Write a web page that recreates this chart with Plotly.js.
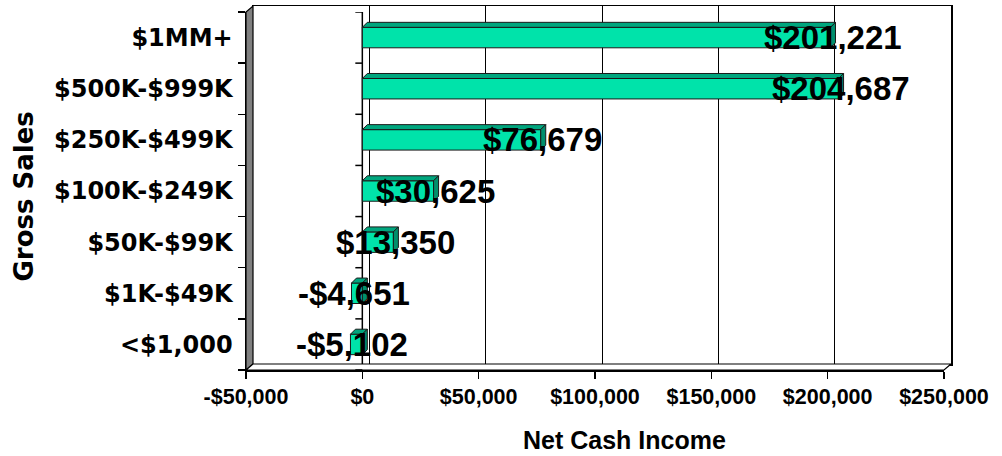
<!DOCTYPE html>
<html>
<head>
<meta charset="utf-8">
<script src="https://cdn.plot.ly/plotly-3.0.1.min.js"></script>
<style>html,body{margin:0;padding:0;background:#fff;}#chart{width:1002px;height:456px;}</style>
</head>
<body>
<div id="chart"></div>
<script>
// ---- data ----
var categories = ["<$1,000", "$1K-$49K", "$50K-$99K", "$100K-$249K", "$250K-$499K", "$500K-$999K", "$1MM+"];
var netCashIncome = [-5102, -4651, 13350, 30625, 76679, 204687, 201221];
var xTickVals = [-50000, 0, 50000, 100000, 150000, 200000, 250000];
var xTickText = ["-$50,000", "$0", "$50,000", "$100,000", "$150,000", "$200,000", "$250,000"];

// ---- geometry (pixels) ----
var W = 1002, H = 456;
var frontL = 246, frontR = 944, frontT = 12, frontB = 370;
var depX = 7, depY = 6;
var padL = frontL, padR = W - (frontR + depX), padT = frontT - depY, padB = H - frontB;
var pw = (frontR + depX) - frontL, ph = frontB - (frontT - depY);
function px(x) { return (x - frontL) / pw; }
function py(y) { return (frontB - y) / ph; }

var xMin = -50000, xMax = 250000;
var barW = 0.40;
var faceDx = 5 * (xMax - xMin) / (frontR - frontL);
var faceDy = 5 * 7 / (frontB - frontT);

function money(v) {
  var s = Math.abs(v).toString().replace(/\B(?=(\d{3})+(?!\d))/g, ",");
  return (v < 0 ? "-$" : "$") + s;
}

var idx = categories.map(function (c, i) { return i; });

var traces = [
  { type: "scatter", x: [], y: [], xaxis: "x", yaxis: "y", hoverinfo: "skip", showlegend: false },
  {
    type: "bar", orientation: "h", x: netCashIncome, y: idx, xaxis: "x2", yaxis: "y2",
    width: barW, marker: { color: "#00E3AA", line: { color: "#1a1a1a", width: 1 } },
    hoverinfo: "skip", showlegend: false
  }
];

var shapes = [];
// left wall
shapes.push({
  type: "path", xref: "paper", yref: "paper", layer: "above",
  path: "M" + px(frontL) + "," + py(frontB) + " L" + px(frontL) + "," + py(frontT) +
        " L" + px(frontL + depX) + "," + py(frontT - depY) + " L" + px(frontL + depX) + "," + py(frontB - depY) + " Z",
  fillcolor: "#808080", line: { color: "#000", width: 1.2 }
});
// floor
shapes.push({
  type: "path", xref: "paper", yref: "paper", layer: "above",
  path: "M" + px(frontL) + "," + py(frontB) + " L" + px(frontR) + "," + py(frontB) +
        " L" + px(frontR + depX) + "," + py(frontB - depY) + " L" + px(frontL + depX) + "," + py(frontB - depY) + " Z",
  fillcolor: "#ffffff", line: { color: "#000", width: 1.2 }
});
// zero category axis line and its ticks
shapes.push({ type: "line", xref: "x2", yref: "y2", x0: 0, x1: 0, y0: -0.5, y1: categories.length - 0.5, line: { color: "#000", width: 1.5 }, layer: "below" });
for (var b = 0; b <= categories.length; b++) {
  shapes.push({ type: "line", xref: "x2", yref: "y2", xsizemode: "pixel", xanchor: 0, x0: -7, x1: 0,
    y0: b - 0.5, y1: b - 0.5, line: { color: "#000", width: 1.5 } });
}
// 3D faces of bars
netCashIncome.forEach(function (v, i) {
  var x0 = Math.min(0, v), x1 = Math.max(0, v);
  var yt = i + barW / 2, yb = i - barW / 2;
  shapes.push({
    type: "path", xref: "x2", yref: "y2", layer: "above",
    path: "M" + x0 + "," + yt + " L" + x1 + "," + yt + " L" + (x1 + faceDx) + "," + (yt + faceDy) + " L" + (x0 + faceDx) + "," + (yt + faceDy) + " Z",
    fillcolor: "#00A67E", line: { color: "#1a1a1a", width: 1 }
  });
  shapes.push({
    type: "path", xref: "x2", yref: "y2", layer: "above",
    path: "M" + x1 + "," + yb + " L" + x1 + "," + yt + " L" + (x1 + faceDx) + "," + (yt + faceDy) + " L" + (x1 + faceDx) + "," + (yb + faceDy) + " Z",
    fillcolor: "#008F6C", line: { color: "#1a1a1a", width: 1 }
  });
});

var annotations = netCashIncome.map(function (v, i) {
  return {
    xref: "x2", yref: "y2", x: v, y: i, text: money(v), showarrow: false,
    xanchor: "center", yanchor: "middle", xshift: 2,
    font: { family: "Liberation Sans, Arial, sans-serif", size: 33, weight: "bold", color: "#000" }
  };
});
annotations.push({
  xref: "paper", yref: "paper", x: px(624.5), y: py(440), text: "Net Cash Income", showarrow: false,
  xanchor: "center", yanchor: "middle",
  font: { family: "Liberation Sans, Arial, sans-serif", size: 25, weight: "bold", color: "#000" }
});
annotations.push({
  xref: "paper", yref: "paper", x: px(24), y: py(196.5), text: "Gross Sales", showarrow: false,
  textangle: -90, xanchor: "center", yanchor: "middle",
  font: { family: "DejaVu Sans, Verdana, sans-serif", size: 26, weight: "bold", color: "#000" }
});

var layout = {
  width: W, height: H,
  margin: { l: padL, r: padR, t: padT, b: padB, pad: 0 },
  paper_bgcolor: "#fff", plot_bgcolor: "rgba(0,0,0,0)",
  showlegend: false,
  xaxis: {
    domain: [px(frontL + depX), 1], anchor: "y", range: [xMin, xMax],
    tick0: 0, dtick: 50000, showgrid: true, gridcolor: "#000", gridwidth: 1,
    showticklabels: false, ticks: "", zeroline: false,
    showline: true, mirror: true, linecolor: "#000", linewidth: 1.5
  },
  yaxis: {
    domain: [py(frontB - depY), 1], anchor: "x", range: [-0.5, categories.length - 0.5],
    showgrid: false, showticklabels: false, ticks: "", zeroline: false,
    showline: true, mirror: true, linecolor: "#000", linewidth: 1.5
  },
  xaxis2: {
    domain: [0, px(frontR)], anchor: "y2", range: [xMin, xMax],
    tickmode: "array", tickvals: xTickVals, ticktext: xTickText,
    ticks: "outside", ticklen: 7, tickcolor: "#000", tickwidth: 1.5,
    showgrid: false, zeroline: false, showline: true, linecolor: "#000", linewidth: 1.5,
    tickfont: { family: "Liberation Sans, Arial, sans-serif", size: 21.5, weight: "bold", color: "#000" }
  },
  yaxis2: {
    domain: [0, py(frontT)], anchor: "x2", range: [-0.5, categories.length - 0.5],
    tickmode: "array", tickvals: idx, ticktext: categories, ticks: "",
    ticklabelstandoff: 7,
    minor: { tick0: 0.5, dtick: 1, ticks: "outside", ticklen: 7, tickcolor: "#000", tickwidth: 1.5, showgrid: false },
    showgrid: false, zeroline: false, showline: true, linecolor: "#000", linewidth: 1.5,
    tickfont: { family: "DejaVu Sans, Verdana, sans-serif", size: 24, weight: "bold", color: "#000" }
  },
  shapes: shapes,
  annotations: annotations
};

Plotly.newPlot("chart", traces, layout, { staticPlot: true, displayModeBar: false });
</script>
</body>
</html>
